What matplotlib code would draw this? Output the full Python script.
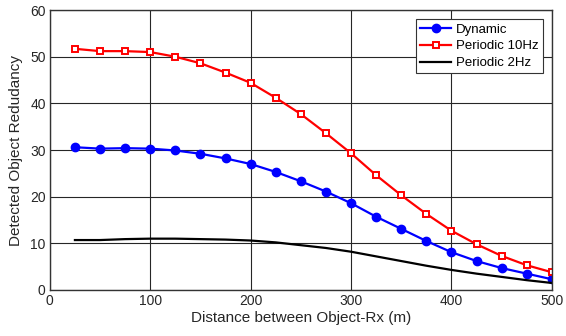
import matplotlib
matplotlib.use("Agg")
import matplotlib.pyplot as plt

plt.rcParams['font.family'] = ['Liberation Sans', 'DejaVu Sans']

# Data
distance = [25, 50, 75, 100, 125, 150, 175, 200, 225, 250,
            275, 300, 325, 350, 375, 400, 425, 450, 475, 500]
dynamic = [30.6, 30.3, 30.4, 30.3, 29.9, 29.2, 28.2, 27.0, 25.3, 23.3,
           21.1, 18.6, 15.7, 13.1, 10.5, 8.1, 6.2, 4.7, 3.5, 2.3]
periodic_10hz = [51.7, 51.2, 51.2, 51.0, 50.0, 48.6, 46.6, 44.4, 41.2, 37.7,
                 33.6, 29.3, 24.6, 20.3, 16.3, 12.7, 9.8, 7.3, 5.3, 3.8]
periodic_2hz = [10.7, 10.7, 10.9, 11.0, 11.0, 10.9, 10.8, 10.6, 10.2, 9.6,
                9.0, 8.2, 7.2, 6.2, 5.2, 4.3, 3.5, 2.8, 2.1, 1.5]

fig = plt.figure(figsize=(5.66, 3.36), dpi=100)
ax = fig.add_axes([0.088, 0.137, 0.887, 0.833])

ax.plot(distance, dynamic, color='blue', lw=1.6, marker='o', markersize=6,
        label='Dynamic')
ax.plot(distance, periodic_10hz, color='red', lw=1.6, marker='s', markersize=5,
        markerfacecolor='white', markeredgewidth=1.4, label='Periodic 10Hz')
ax.plot(distance, periodic_2hz, color='black', lw=1.6, label='Periodic 2Hz')

ax.set_xlim(0, 500)
ax.set_ylim(0, 60)
ax.set_xticks(range(0, 501, 100))
ax.set_yticks(range(0, 61, 10))
ax.grid(True, color='#262626', lw=0.8)
ax.tick_params(labelsize=10, length=0, pad=3, labelcolor='#262626')
for s in ax.spines.values():
    s.set_color('#333333')
    s.set_linewidth(1.0)

ax.set_xlabel('Distance between Object-Rx (m)', fontsize=11, labelpad=2,
              color='#262626')
ax.set_ylabel('Detected Object Redudancy', fontsize=11, labelpad=5,
              color='#262626')

leg = ax.legend(loc='upper right', fontsize=9.5, fancybox=False, framealpha=1,
                edgecolor='#333333', borderaxespad=0.7, handlelength=2.3,
                handletextpad=0.4, labelspacing=0.35, borderpad=0.3)
leg.get_frame().set_linewidth(0.8)

fig.savefig('out.png', dpi=100)
